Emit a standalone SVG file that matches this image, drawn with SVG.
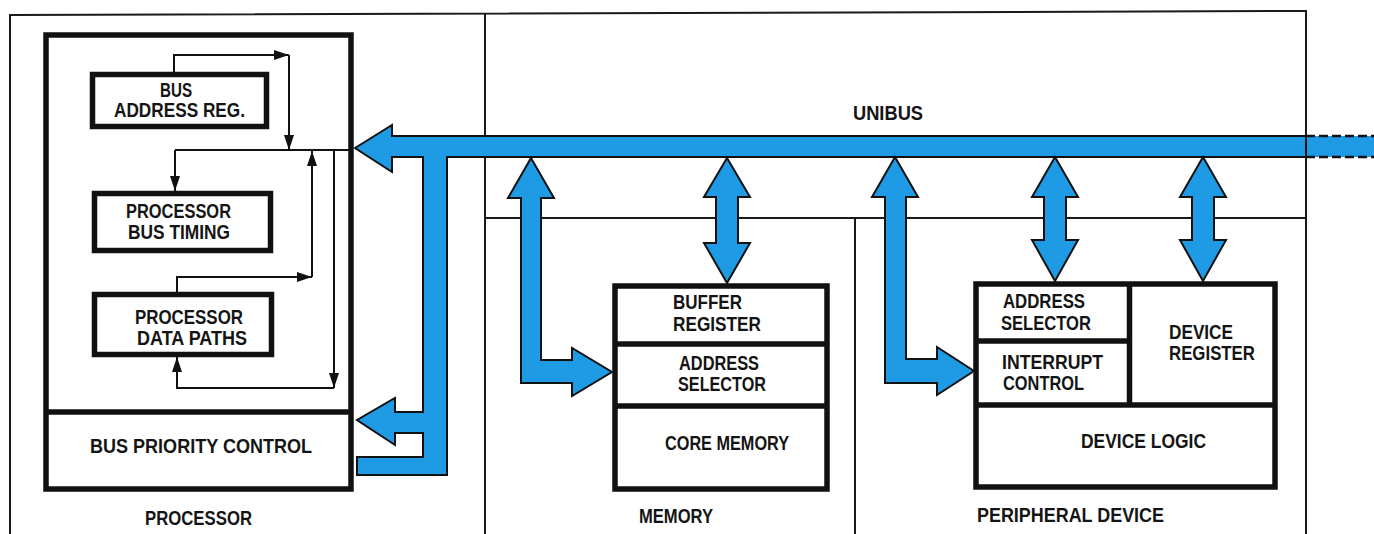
<svg xmlns="http://www.w3.org/2000/svg" width="1374" height="534" viewBox="0 0 1374 534">
<style>
.t{font-family:"Liberation Sans",Arial,Helvetica,sans-serif;font-weight:bold;font-size:20px;fill:#141414}
.fr{fill:none;stroke:#1a1a1a;stroke-width:2}
.box{fill:#fff;stroke:#111;stroke-width:5.5}
.div{stroke:#111;stroke-width:5.5}
.ln{fill:none;stroke:#111;stroke-width:2}
.bl{fill:#1f9be6;stroke:#111;stroke-width:2;stroke-linejoin:miter}
</style>
<defs>
<marker id="ah" viewBox="0 0 15 10" refX="15" refY="5" markerWidth="15" markerHeight="10" markerUnits="userSpaceOnUse" orient="auto">
<path d="M0,0 L15,5 L0,10 Z" fill="#111"/>
</marker>
</defs>
<rect width="1374" height="534" fill="#fff"/>
<g id="frame">
<path class="fr" d="M10,534 V15 L1306,11 V534"/>
<path class="fr" d="M485,13 V534"/>
<path class="fr" d="M485,218 H1306"/>
<path class="fr" d="M855,218 V534"/>
</g>
<g id="processor">
<rect class="box" x="46" y="35" width="305" height="454"/>
<line class="div" x1="46" y1="412" x2="351" y2="412"/>
<text class="t" x="145" y="525" textLength="107" lengthAdjust="spacingAndGlyphs">PROCESSOR</text>
</g>
<g id="bus-address-reg">
<rect class="box" x="92.5" y="74.5" width="174" height="52"/>
<text class="t" x="160" y="97" textLength="32" lengthAdjust="spacingAndGlyphs">BUS</text>
<text class="t" x="114" y="117" textLength="131" lengthAdjust="spacingAndGlyphs">ADDRESS REG.</text>
</g>
<g id="processor-bus-timing">
<rect class="box" x="94.5" y="193.5" width="176" height="57"/>
<text class="t" x="126" y="218" textLength="105" lengthAdjust="spacingAndGlyphs">PROCESSOR</text>
<text class="t" x="128" y="239" textLength="102" lengthAdjust="spacingAndGlyphs">BUS TIMING</text>
</g>
<g id="processor-data-paths">
<rect class="box" x="94.5" y="294.5" width="177" height="60"/>
<text class="t" x="135" y="324" textLength="108" lengthAdjust="spacingAndGlyphs">PROCESSOR</text>
<text class="t" x="137" y="345" textLength="110" lengthAdjust="spacingAndGlyphs">DATA PATHS</text>
</g>
<g id="bus-priority-control">
<text class="t" x="90" y="453" textLength="222" lengthAdjust="spacingAndGlyphs">BUS PRIORITY CONTROL</text>
</g>
<g id="unibus">
<text class="t" x="853" y="120" textLength="70" lengthAdjust="spacingAndGlyphs">UNIBUS</text>
</g>
<g id="memory">
<rect class="box" x="615" y="286" width="212" height="203"/>
<line class="div" x1="615" y1="344" x2="827" y2="344"/>
<line class="div" x1="615" y1="406" x2="827" y2="406"/>
<text class="t" x="673" y="309" textLength="69" lengthAdjust="spacingAndGlyphs">BUFFER</text>
<text class="t" x="673" y="331" textLength="88" lengthAdjust="spacingAndGlyphs">REGISTER</text>
<text class="t" x="679" y="370" textLength="80" lengthAdjust="spacingAndGlyphs">ADDRESS</text>
<text class="t" x="678" y="391" textLength="88" lengthAdjust="spacingAndGlyphs">SELECTOR</text>
<text class="t" x="665" y="450" textLength="124" lengthAdjust="spacingAndGlyphs">CORE MEMORY</text>
<text class="t" x="639" y="523" textLength="74" lengthAdjust="spacingAndGlyphs">MEMORY</text>
</g>
<g id="peripheral-device">
<rect class="box" x="976" y="284" width="299" height="203"/>
<line class="div" x1="1129.5" y1="284" x2="1129.5" y2="405"/>
<line class="div" x1="976" y1="341" x2="1129.5" y2="341"/>
<line class="div" x1="976" y1="405" x2="1275" y2="405"/>
<text class="t" x="1003" y="308" textLength="82" lengthAdjust="spacingAndGlyphs">ADDRESS</text>
<text class="t" x="1001" y="330" textLength="90" lengthAdjust="spacingAndGlyphs">SELECTOR</text>
<text class="t" x="1002" y="369" textLength="101" lengthAdjust="spacingAndGlyphs">INTERRUPT</text>
<text class="t" x="1003" y="390" textLength="81" lengthAdjust="spacingAndGlyphs">CONTROL</text>
<text class="t" x="1169" y="339" textLength="64" lengthAdjust="spacingAndGlyphs">DEVICE</text>
<text class="t" x="1169" y="360" textLength="86" lengthAdjust="spacingAndGlyphs">REGISTER</text>
<text class="t" x="1081" y="448" textLength="125" lengthAdjust="spacingAndGlyphs">DEVICE LOGIC</text>
<text class="t" x="977" y="522" textLength="187" lengthAdjust="spacingAndGlyphs">PERIPHERAL DEVICE</text>
</g>
<g id="connectors">
<path class="ln" d="M174,74 V55 H289" marker-end="url(#ah)"/>
<path class="ln" d="M289,55 V150" marker-end="url(#ah)"/>
<path class="ln" d="M175,150 H352"/>
<path class="ln" d="M175,150 V191" marker-end="url(#ah)"/>
<path class="ln" d="M312,277 V151" marker-end="url(#ah)"/>
<path class="ln" d="M177,294 V277 H312" marker-end="url(#ah)"/>
<path class="ln" d="M334,150 V388" marker-end="url(#ah)"/>
<path class="ln" d="M334,388 H177 V357" marker-end="url(#ah)"/>
<rect x="1306" y="136" width="68" height="21" fill="#1f9be6"/>
<path d="M1306,136 H1374 M1306,157 H1374" stroke="#111" stroke-width="2.5" stroke-dasharray="9,4" fill="none"/>
<polygon class="bl" points="355,148 392,125 392,136 1306,136 1306,157 447,157 447,475 357,475 357,457 423,457 423,433 395,433 395,445 357,420 395,398 395,412 423,412 423,157 392,157 392,172"/>
<polygon class="bl" points="531,158 554,198 541,198 541,360 572,360 572,348 612,372 572,396 572,383 521,383 521,198 508,198"/>
<polygon class="bl" points="727,158 750,197 738,197 738,243 750,243 727,283 704,243 716,243 716,197 704,197"/>
<polygon class="bl" points="895,157 918,197 906,197 906,359 937,359 937,347 974,371 937,395 937,383 885,383 885,197 872,197"/>
<polygon class="bl" points="1055,157 1078,197 1066,197 1066,240 1078,240 1055,281 1032,240 1044,240 1044,197 1032,197"/>
<polygon class="bl" points="1203,157 1226,197 1214,197 1214,240 1226,240 1203,281 1180,240 1192,240 1192,197 1180,197"/>
</g>
</svg>
